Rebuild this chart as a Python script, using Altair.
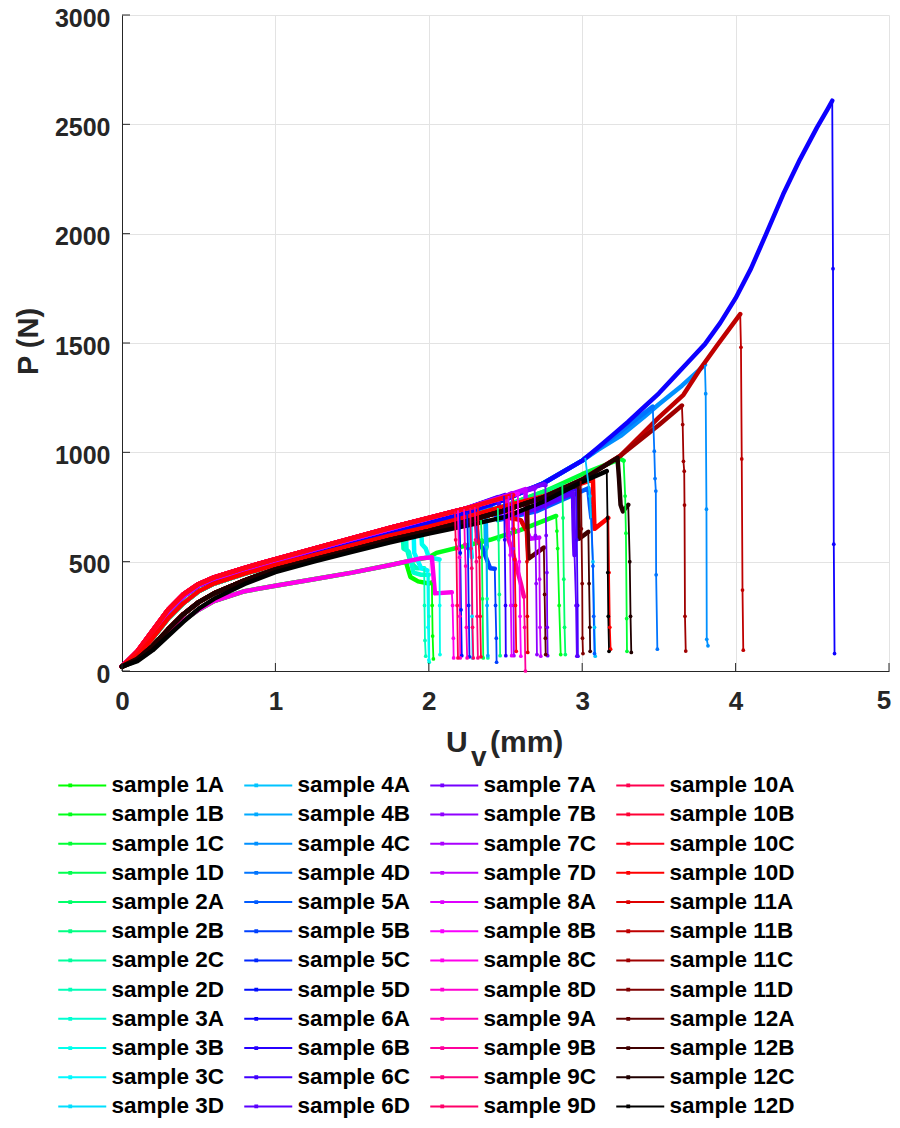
import altair as alt
import pandas as pd

# ---------------- data ----------------
SAMPLES = [f"sample {n}{l}" for n in range(1, 13) for l in "ABCD"]

COLORS = [
    "#00ff00", "#00ff1a", "#00ff34", "#00ff4f",
    "#00ff69", "#00ff83", "#00ff9d", "#00ffb8",
    "#00ffd2", "#00ffec", "#00f9ff", "#00deff",
    "#00c4ff", "#00aaff", "#0090ff", "#0075ff",
    "#005bff", "#0041ff", "#0027ff", "#000dff",
    "#0d00ff", "#2700ff", "#4100ff", "#5b00ff",
    "#7500ff", "#9000ff", "#aa00ff", "#c400ff",
    "#de00ff", "#f900ff", "#ff00eb", "#ff00d1",
    "#ff00b7", "#ff009d", "#ff0083", "#ff0069",
    "#ff004f", "#ff0034", "#ff001a", "#ff0000",
    "#df0000", "#bf0000", "#9f0000", "#800000",
    "#600000", "#400000", "#200000", "#000000",
]

# common displacement knots (mm) of the loading branches
X_KNOTS = [0, 0.1, 0.2, 0.3, 0.4, 0.5, 0.6, 0.8, 1.0, 1.25, 1.5, 1.75, 2.0,
           2.25, 2.5, 2.75, 3.0, 3.25, 3.5, 3.75, 4.0, 4.25, 4.5]

# loads (N) of the loading-branch bands at those knots
P_PINK = [20, 90, 185, 280, 350, 398, 428, 472, 512, 560, 608, 655, 700, 745, 795, 850]
P_BLUE = [20, 88, 182, 275, 345, 392, 420, 460, 495, 540, 585, 630, 675, 725, 785, 860,
          962, 1090, 1245, 1440, 1715]
P_PURPLE = [20, 85, 178, 272, 342, 392, 422, 465, 505, 555, 603, 650, 698, 745, 800, 855, 920]
P_MID = [20, 70, 150, 240, 310, 365, 400, 445, 485, 530, 575, 620, 660, 705, 755, 820, 900, 970]
P_DARK = [20, 55, 115, 190, 260, 315, 355, 415, 465, 510, 555, 600, 640, 685, 735, 795, 875, 985, 1160]
P_BLACK = [20, 45, 95, 160, 225, 285, 330, 398, 452, 500, 545, 588, 628, 665, 705, 775, 865, 950]
P_LOW = [20, 50, 105, 170, 230, 280, 320, 365, 390, 420, 450, 485, 520]

BANDS = {"pink": P_PINK, "blue": P_BLUE, "purple": P_PURPLE, "mid": P_MID,
         "dark": P_DARK, "black": P_BLACK, "low": P_LOW}

# (band, end of loading branch [(U, P)], final drop [(U, P)])
SERIES = [
    ("low", [(1.85, 500), (1.88, 430), (1.93, 410), (2.0, 400), (2.02, 405)], [(2.022, 300), (2.025, 160), (2.03, 55)]),
    ("low", [(2.05, 540), (2.4, 600), (2.6, 645), (2.83, 709)], [(2.835, 640), (2.84, 560), (2.85, 300), (2.86, 75)]),
    ("mid", [(3.27, 962)], [(3.28, 800), (3.285, 630), (3.29, 240), (3.292, 90)]),
    ("mid", [(2.34, 690)], [(2.345, 600), (2.35, 330), (2.355, 60)]),
    ("mid", [(2.87, 850)], [(2.875, 700), (2.88, 420), (2.885, 200), (2.89, 75)]),
    ("mid", [(2.45, 745)], [(2.455, 600), (2.46, 350), (2.465, 70)]),
    ("mid", [(2.37, 725), (2.372, 600), (2.378, 570)], [(2.38, 330), (2.385, 60)]),
    ("mid", [(1.83, 630), (1.835, 560), (1.86, 550), (1.88, 500), (1.92, 470), (1.97, 470)], [(1.972, 300), (1.975, 140), (1.98, 68)]),
    ("mid", [(1.85, 635), (1.855, 555), (1.87, 545), (1.9, 450), (1.95, 440), (2.0, 440)], [(2.001, 250), (2.003, 40)]),
    ("mid", [(1.95, 650), (1.955, 580), (1.98, 560), (2.0, 520), (2.07, 510)], [(2.071, 300), (2.073, 75)]),
    ("blue", [(1.9, 660), (1.905, 540), (1.95, 470), (1.99, 460)], [(1.995, 200), (2.0, 50)]),
    ("blue", [(2.27, 730), (2.275, 560), (2.28, 520)], [(2.282, 250), (2.285, 60)]),
    ("blue", [(3.02, 975)], [(3.05, 800), (3.07, 500), (3.08, 200), (3.085, 68)]),
    ("blue", [(2.37, 755), (2.375, 560)], [(2.38, 300), (2.385, 70)]),
    ("blue", [(3.1, 1010), (3.25, 1075), (3.4, 1160), (3.5, 1220), (3.65, 1305), (3.8, 1400)],
     [(3.805, 1268), (3.81, 740), (3.812, 145), (3.82, 115)]),
    ("blue", [(3.1, 1015), (3.25, 1095), (3.35, 1150), (3.46, 1209)], [(3.47, 1005), (3.475, 880), (3.48, 823), (3.482, 440), (3.49, 100)]),
    ("blue", [(2.4, 760), (2.45, 690), (2.7, 730), (3.04, 836), (3.05, 760), (3.06, 700)], [(3.07, 480), (3.075, 250), (3.08, 80)]),
    ("blue", [(2.3, 740), (2.32, 600), (2.35, 560), (2.4, 470), (2.43, 468)], [(2.435, 300), (2.44, 150), (2.442, 40)]),
    ("blue", [(2.25, 725)], [(2.255, 560), (2.26, 300), (2.265, 65)]),
    ("blue", [(2.2, 715)], [(2.205, 540), (2.21, 280), (2.215, 70)]),
    ("blue", [(3.1, 1020), (3.2, 1080), (3.3, 1140), (3.4, 1205), (3.5, 1270), (3.6, 1345), (3.7, 1420),
              (3.8, 1495), (3.9, 1592), (4.0, 1705), (4.1, 1840), (4.2, 2000), (4.31, 2180), (4.42, 2340),
              (4.53, 2485), (4.6, 2570), (4.63, 2608)], [(4.635, 1840), (4.64, 580), (4.645, 80)]),
    ("purple", [(2.49, 800)], [(2.495, 600), (2.5, 300), (2.502, 70)]),
    ("purple", [(2.5, 805), (2.52, 700), (2.75, 770), (2.96, 835)], [(2.965, 600), (2.97, 300), (2.972, 68)]),
    ("purple", [(2.45, 795), (2.47, 700), (2.7, 740), (2.94, 814), (2.945, 640), (2.95, 530)], [(2.96, 300), (2.965, 68)]),
    ("purple", [(2.76, 850)], [(2.765, 620), (2.77, 450), (2.772, 200), (2.775, 70)]),
    ("purple", [(2.69, 835)], [(2.695, 620), (2.7, 400), (2.705, 75)]),
    ("purple", [(2.54, 812)], [(2.545, 650), (2.55, 560), (2.552, 300), (2.555, 70)]),
    ("purple", [(2.63, 832), (2.635, 700), (2.64, 640), (2.66, 605), (2.72, 610)], [(2.722, 420), (2.725, 200), (2.73, 68)]),
    ("pink", [(2.52, 800)], [(2.525, 620), (2.53, 530), (2.535, 300), (2.54, 70)]),
    ("pink", [(2.58, 810)], [(2.585, 640), (2.59, 500), (2.595, 250), (2.6, 68)]),
    ("low", [(1.94, 514), (2.02, 520), (2.04, 355), (2.15, 360)], [(2.155, 300), (2.16, 150), (2.162, 60)]),
    ("pink", [(2.19, 735)], [(2.195, 560), (2.2, 520), (2.202, 250), (2.205, 60)]),
    ("pink", [(2.23, 740)], [(2.235, 580), (2.24, 480), (2.245, 200), (2.25, 60)]),
    ("pink", [(2.5, 795), (2.52, 600), (2.54, 560), (2.57, 480), (2.6, 400), (2.62, 340)], [(2.625, 200), (2.63, 0)]),
    ("pink", [(2.3, 750)], [(2.305, 600), (2.31, 500), (2.315, 250), (2.32, 60)]),
    ("pink", [(2.27, 745)], [(2.275, 560), (2.28, 470), (2.285, 200), (2.29, 60)]),
    ("pink", [(2.17, 730)], [(2.175, 600), (2.18, 560), (2.185, 300), (2.19, 60)]),
    ("pink", [(2.32, 755)], [(2.325, 590), (2.33, 520), (2.335, 250), (2.34, 65)]),
    ("pink", [(2.55, 805)], [(2.555, 650), (2.56, 510), (2.565, 300), (2.57, 90)]),
    ("mid", [(2.75, 800), (3.07, 875), (3.075, 760), (3.08, 650), (3.17, 700)], [(3.175, 450), (3.18, 200), (3.185, 100)]),
    ("dark", [(2.52, 745), (2.53, 700), (2.6, 690), (2.63, 650)], [(2.64, 500), (2.642, 250), (2.645, 85)]),
    ("dark", [(3.66, 1263), (3.77, 1382), (3.88, 1490), (4.03, 1632)], [(4.035, 1480), (4.04, 970), (4.045, 370), (4.05, 95)]),
    ("dark", [(3.5, 1125), (3.65, 1214)], [(3.655, 1127), (3.66, 959), (3.665, 914), (3.667, 759), (3.67, 250), (3.675, 91)]),
    ("dark", [(2.99, 870)], [(2.995, 650), (3.0, 400), (3.002, 150), (3.005, 80)]),
    ("dark", [(2.64, 770), (2.645, 600), (2.65, 514), (2.75, 564)], [(2.755, 350), (2.76, 150), (2.762, 75)]),
    ("dark", [(2.97, 850), (2.975, 700), (2.98, 605), (3.04, 636)], [(3.045, 400), (3.05, 200), (3.052, 90)]),
    ("dark", [(3.23, 975), (3.24, 880), (3.25, 760), (3.265, 730), (3.3, 760)], [(3.31, 500), (3.315, 250), (3.32, 85)]),
    ("black", [(3.16, 914)], [(3.165, 700), (3.167, 450), (3.17, 250), (3.175, 90)]),
]

X_TICKS = [0, 1, 2, 3, 4, 5]
X_TICK_LABELS = ["0", "1", "2", "3", "4", "5"]
Y_TICKS = [0, 500, 1000, 1500, 2000, 2500, 3000]

# ---------------- tables ----------------
load_rows, drop_rows, dot_rows = [], [], []
for name, (band, tail, drop) in zip(SAMPLES, SERIES):
    pts = [(x, p) for x, p in zip(X_KNOTS, BANDS[band]) if x < tail[0][0]] + tail
    for k, (x, p) in enumerate(pts):
        load_rows.append({"series": name, "U": x, "P": p, "k": k})
    for k, (x, p) in enumerate([pts[-1]] + drop):
        drop_rows.append({"series": name, "U": x, "P": p, "k": k})
    for x, p in drop:
        dot_rows.append({"series": name, "U": x, "P": p})

df_load = pd.DataFrame(load_rows)
df_drop = pd.DataFrame(drop_rows)
df_dots = pd.DataFrame(dot_rows)

FONT = "Liberation Sans"
AX_COL = "#262626"
W, H = 767, 656

xscale = alt.Scale(domain=[0, 5], nice=False, zero=False)
yscale = alt.Scale(domain=[0, 3000], nice=False, zero=False)
# the last x label ("5") is drawn by a text layer so it can sit just inside the page
xaxis = alt.Axis(values=X_TICKS, format="d", grid=True, gridColor="#e3e3e3", gridWidth=1,
                 domainColor=AX_COL, domainWidth=1, ticks=False, tickSize=0,
                 labelExpr="datum.value == 5 ? '' : datum.label",
                 labelFont=FONT, labelFontSize=26, labelFontWeight="bold", labelColor=AX_COL,
                 labelPadding=17, labelFlush=False, labelOverlap=False, title=None)
yaxis = alt.Axis(values=Y_TICKS, format="d", grid=True, gridColor="#e3e3e3", gridWidth=1,
                 domainColor=AX_COL, domainWidth=1, ticks=False, tickSize=0,
                 labelFont=FONT, labelFontSize=25, labelFontWeight="bold", labelColor=AX_COL,
                 labelPadding=12, labelOffset=3, labelFlush=False, labelOverlap=False,
                 title="P (N)", titleFont=FONT, titleFontSize=29, titleFontWeight="bold",
                 titleColor=AX_COL, titleAngle=270, titleX=-85, titleY=326,
                 titleAlign="center", titleBaseline="alphabetic")

X = alt.X("U:Q", scale=xscale, axis=xaxis)
Y = alt.Y("P:Q", scale=yscale, axis=yaxis)

cscale = alt.Scale(domain=SAMPLES, range=COLORS)
legend = alt.Legend(
    orient="none", legendX=-51, legendY=759, columns=4, direction="vertical", title=None,
    padding=0, symbolLimit=48,
    symbolType="M-4,0L4,0M-2.15,-0.15L-1.85,-0.15L-1.85,0.15L-2.15,0.15Z",
    symbolSize=144, symbolStrokeWidth=2,
    labelFont=FONT, labelFontSize=22.5, labelFontWeight="bold", labelColor="#000000",
    labelOffset=18, columnPadding=3, rowPadding=6.2, gridAlign="all", labelLimit=300,
)

load = alt.Chart(df_load).mark_line(strokeWidth=4.5, strokeCap="round", strokeJoin="round").encode(
    x=X, y=Y, color=alt.Color("series:N", scale=cscale, legend=legend), order="k:Q")
drops = alt.Chart(df_drop).mark_line(strokeWidth=1.8).encode(
    x=X, y=Y, color=alt.Color("series:N", scale=cscale, legend=None), order="k:Q")
dots = alt.Chart(df_dots).mark_circle(size=14, opacity=1).encode(
    x=X, y=Y, color=alt.Color("series:N", scale=cscale, legend=None))

xt = alt.Chart(pd.DataFrame({"U": X_TICKS})).mark_rule(color=AX_COL, strokeWidth=1).encode(
    x=X, y=alt.value(H), y2=alt.value(H - 8))
yt = alt.Chart(pd.DataFrame({"P": Y_TICKS})).mark_rule(color=AX_COL, strokeWidth=1).encode(
    y=Y, x=alt.value(0), x2=alt.value(8))

last_label = alt.Chart(pd.DataFrame({"U": X_TICKS[-1:], "t": X_TICK_LABELS[-1:]})).mark_text(
    align="center", baseline="top", dx=-5, font=FONT, fontSize=26, fontWeight="bold",
    color=AX_COL).encode(x=X, y=alt.value(H + 17), text="t:N")

def label(txt, px, py, size):
    return alt.Chart(pd.DataFrame({"t": [txt]})).mark_text(
        align="left", baseline="alphabetic", font=FONT, fontSize=size, fontWeight="bold",
        color=AX_COL).encode(text="t:N", x=alt.value(px), y=alt.value(py))

title_u = label("U", 324, 737, 30)
title_v = label("v", 349, 751, 28)
title_mm = label("(mm)", 368, 737, 30)

chart = alt.layer(load, drops, dots, xt, yt, last_label, title_u, title_v, title_mm).properties(
    width=W, height=H,
    autosize=alt.AutoSizeParams(type="none"),
    padding={"left": 114, "top": 7, "right": 3, "bottom": 449},
).configure_view(strokeWidth=0)

chart.save("out.html", embed_options={"renderer": "svg", "actions": False})
